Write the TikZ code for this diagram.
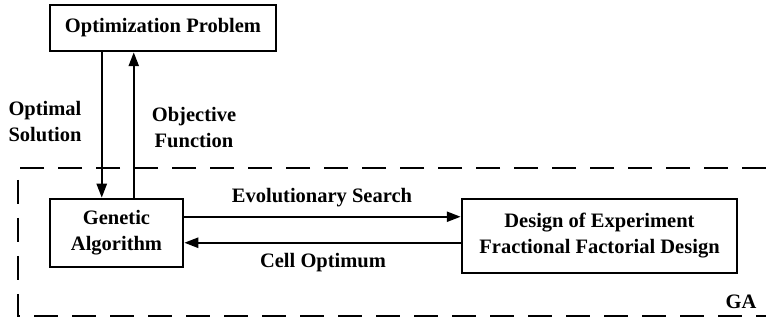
\documentclass[tikz,border=0pt]{standalone}
\usepackage{fontspec}
\setmainfont{Liberation Serif}
\usetikzlibrary{arrows.meta}
\begin{document}
\begin{tikzpicture}[x=1pt,y=-1pt,
  every node/.style={font=\fontsize{20.5}{26}\selectfont\bfseries, inner sep=0pt},
  blockbox/.style={draw, line width=2.5pt, align=center},
  flow/.style={line width=2.4pt, -{Triangle[length=14pt,width=10pt]}},
  frame/.style={line width=2.4pt, dash pattern=on 24pt off 14pt},
  lbl/.style={align=center}]
\useasboundingbox (0,0) rectangle (766,320);

% dashed GA region, open on the right
\draw[frame] (766,168) -- (18,168) -- (18,316) -- (766,316);

% blocks
\node[blockbox, minimum width=226, minimum height=46] (op) at (163,28) {Optimization Problem};
\node[blockbox, minimum width=133, minimum height=68] (ga) at (116.5,233) {Genetic\\Algorithm};
\node[blockbox, minimum width=275, minimum height=74] (doe) at (599.5,236) {Design of Experiment\\Fractional Factorial Design};

% vertical links
\draw[flow] ([xshift=53]op.south west) -- ([xshift=53]ga.north west);
\draw[flow] ([xshift=85]ga.north west) -- ([xshift=85]op.south west);

% horizontal links
\draw[flow] ([yshift=-19]ga.north east) -- ([yshift=-19]doe.north west);
\draw[flow] ([yshift=-45]doe.north west) -- ([yshift=-45]ga.north east);

% labels
\node[align=left] (os) at (45,122) {Optimal\\Solution};
\node[lbl] (of) at (194,128) {Objective\\Function};
\node[lbl] (es) at (322,198) {Evolutionary Search};
\node[lbl] (co) at (323,263) {Cell Optimum};
\node[lbl] (gal) at (741,302) {GA};
\end{tikzpicture}
\end{document}
